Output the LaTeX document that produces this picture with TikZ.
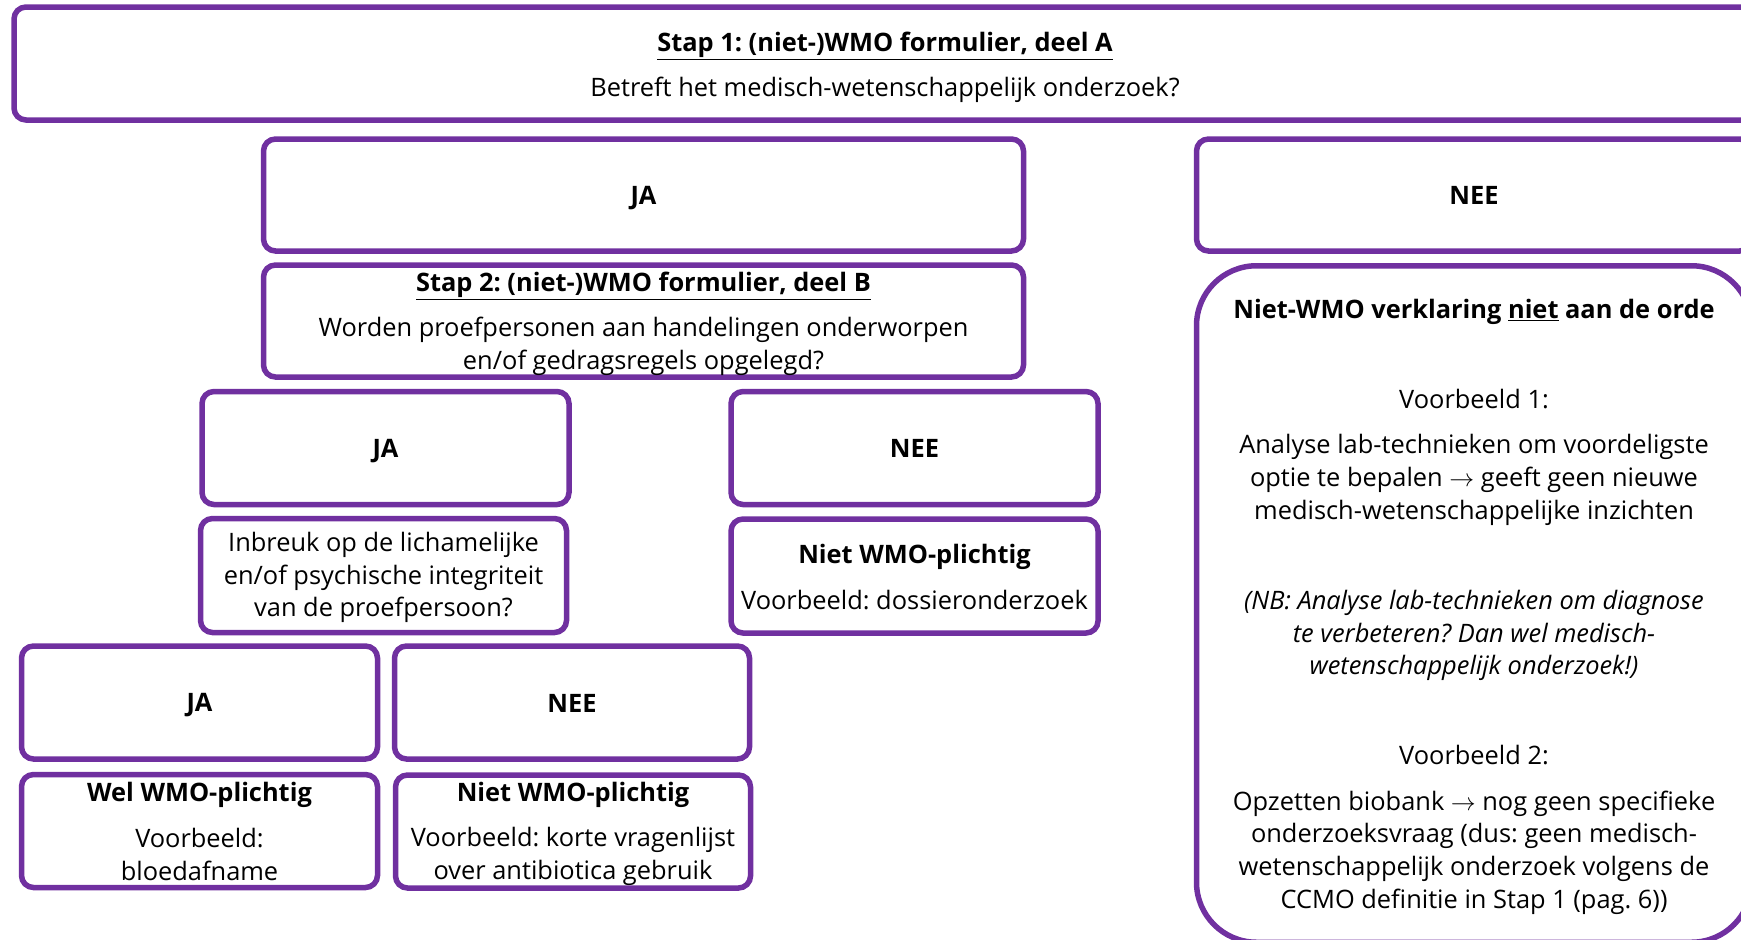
\documentclass[tikz,border=0pt]{standalone}
\usepackage{fontspec}
\setmainfont{Open Sans}
\definecolor{wmo}{HTML}{7030A0}
\frenchspacing
\begin{document}
\begin{tikzpicture}[x=1pt,y=-1pt,
  box/.style={draw=wmo, line width=5.5pt, rounded corners=12pt, inner sep=0pt},
  bigbox/.style={box, rounded corners=60pt},
  txt/.style={inner sep=0pt, align=center, font=\fontsize{25.4}{32.8}\selectfont}]
\useasboundingbox (0,0) rectangle (1741,940);
\clip (0,0) rectangle (1741,940);
% boxes
\node[box, minimum width=1742pt, minimum height=113pt] (top) at (885,63.5) {};
\node[box, minimum width=760pt, minimum height=112pt] (ja1) at (643.5,195) {};
\node[box, minimum width=555pt, minimum height=112pt] (nee1) at (1474,195) {};
\node[box, minimum width=760pt, minimum height=112pt] (stap2) at (643.5,321) {};
\node[bigbox, minimum width=555pt, minimum height=676.5pt] (big) at (1474,604) {};
\node[box, minimum width=367pt, minimum height=113pt] (ja2) at (385.5,448) {};
\node[box, minimum width=367pt, minimum height=113pt] (nee2) at (914.5,448) {};
\node[box, minimum width=366pt, minimum height=114pt] (inbreuk) at (383.5,575.5) {};
\node[box, minimum width=367pt, minimum height=114pt] (nwp1) at (914.5,576) {};
\node[box, minimum width=356pt, minimum height=113pt] (ja3) at (199.5,702.5) {};
\node[box, minimum width=355pt, minimum height=113pt] (nee3) at (572,702.5) {};
\node[box, minimum width=356pt, minimum height=113pt] (wwp) at (199.5,831) {};
\node[box, minimum width=355pt, minimum height=113pt] (nwp2) at (573,831.5) {};
% texts
\node[txt] (topt) at ([yshift=-4pt]top.center)
  {{\bfseries\underline{Stap 1: (niet-)WMO formulier, deel A}}\\[12.5pt]Betreft het medisch-wetenschappelijk onderzoek?};
\node[txt] (ja1t) at ([yshift=-3pt]ja1.center) {\bfseries JA};
\node[txt] (nee1t) at (nee1.center) {\bfseries NEE};
\node[txt] (stap2t) at ([yshift=-3pt]stap2.center)
  {{\bfseries\underline{Stap 2: (niet-)WMO formulier, deel B}}\\[12.5pt]Worden proefpersonen aan handelingen onderworpen\\en/of gedragsregels opgelegd?};
\node[txt] (bigt) at ([yshift=-3pt]big.center)
  {{\bfseries Niet-WMO verklaring \underline{niet} aan de orde}\\[57pt]
   Voorbeeld 1:\\[12.5pt]
   Analyse lab-technieken om voordeligste\\optie te bepalen $\rightarrow$ geeft geen nieuwe\\medisch-wetenschappelijke inzichten\\[57pt]
   {\itshape (NB: Analyse lab-technieken om diagnose}\\{\itshape te verbeteren? Dan wel medisch-}\\{\itshape wetenschappelijk onderzoek!)}\\[57pt]
   Voorbeeld 2:\\[12.5pt]
   Opzetten biobank $\rightarrow$ nog geen specifieke\\onderzoeksvraag (dus: geen medisch-\\wetenschappelijk onderzoek volgens de\\CCMO definitie in Stap 1 (pag. 6))};
\node[txt] (ja2t) at ([yshift=-3pt]ja2.center) {\bfseries JA};
\node[txt] (nee2t) at (nee2.center) {\bfseries NEE};
\node[txt] (inbreukt) at ([yshift=-2pt]inbreuk.center)
  {Inbreuk op de lichamelijke\\en/of psychische integriteit\\van de proefpersoon?};
\node[txt] (nwp1t) at ([yshift=-1pt]nwp1.center)
  {{\bfseries Niet WMO-plichtig}\\[12.5pt]Voorbeeld: dossieronderzoek};
\node[txt] (ja3t) at ([yshift=-3pt]ja3.center) {\bfseries JA};
\node[txt] (nee3t) at ([yshift=-1pt]nee3.center) {\bfseries NEE};
\node[txt] (wwpt) at ([yshift=-0.5pt]wwp.center)
  {{\bfseries Wel WMO-plichtig}\\[12.5pt]Voorbeeld:\\bloedafname};
\node[txt] (nwp2t) at ([yshift=-2pt]nwp2.center)
  {{\bfseries Niet WMO-plichtig}\\[12.5pt]Voorbeeld: korte vragenlijst\\over antibiotica gebruik};
\end{tikzpicture}
\end{document}
